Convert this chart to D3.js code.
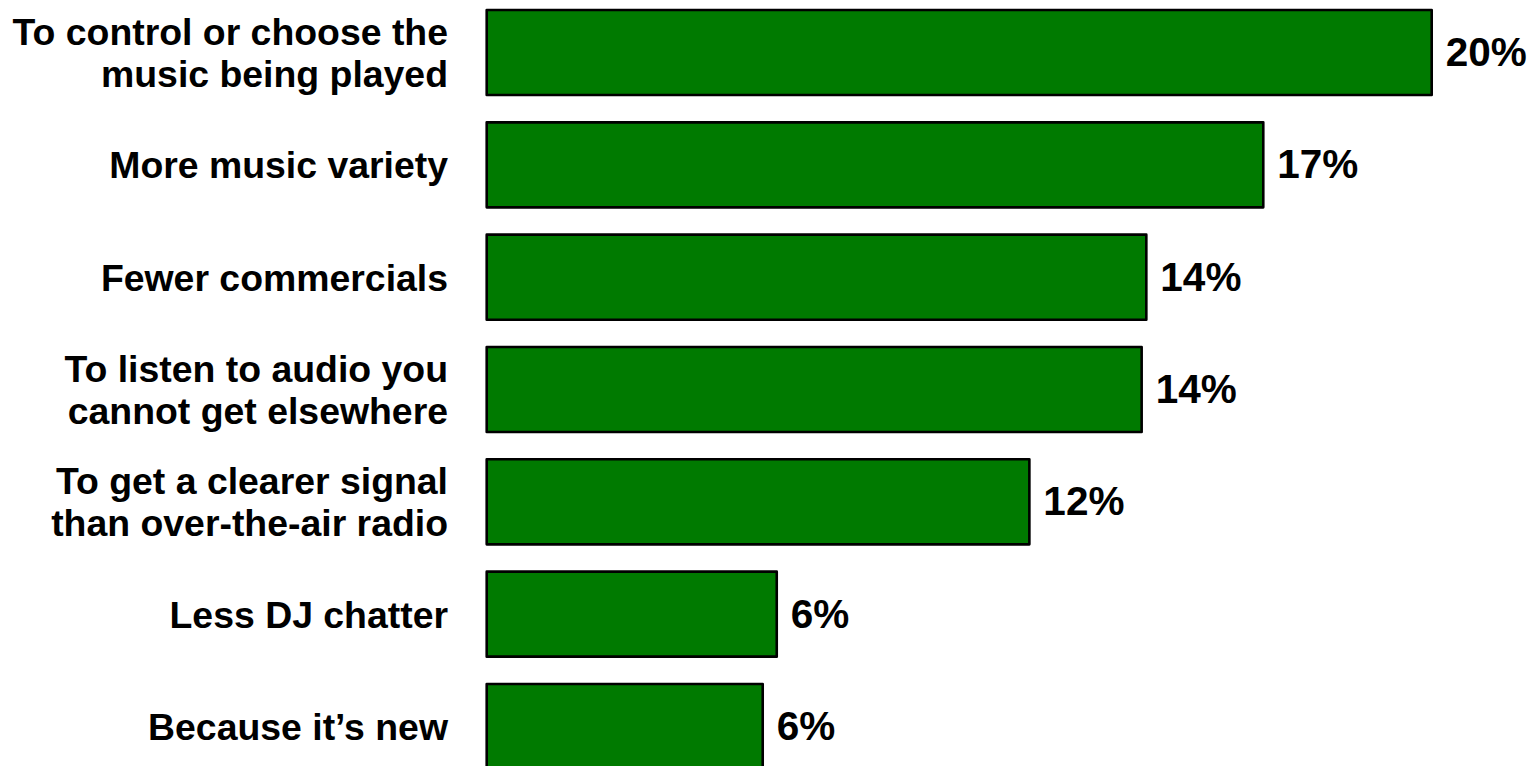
<!DOCTYPE html>
<html>
<head>
<meta charset="utf-8">
<script src="https://cdn.jsdelivr.net/npm/d3@7"></script>
<style>
  html, body { margin: 0; padding: 0; background: #ffffff; overflow: hidden; }
  svg { display: block; }
</style>
</head>
<body>
<svg id="chart" width="1533" height="766"></svg>
<script>
// ---- data ----
const categories = [
  ["To control or choose the", "music being played"],
  ["More music variety"],
  ["Fewer commercials"],
  ["To listen to audio you", "cannot get elsewhere"],
  ["To get a clearer signal", "than over-the-air radio"],
  ["Less DJ chatter"],
  ["Because it\u2019s new"]
];
const values = [20.2, 16.6, 14.1, 14.0, 11.6, 6.2, 5.9];
const valueLabels = ["20%", "17%", "14%", "14%", "12%", "6%", "6%"];

// ---- layout ----
const W = 1533, H = 766;
const svg = d3.select("#chart");
const FONT = "'Liberation Sans', Arial, Helvetica, sans-serif";

const x = d3.scaleLinear().domain([0, 20.2]).range([486.7, 1431.7]);
const y = d3.scaleBand()
  .domain(d3.range(categories.length))
  .range([10, 769])
  .paddingInner(0.243)
  .paddingOuter(0);

const rows = svg.append("g").selectAll("g.row")
  .data(values.map((v, i) => ({ v, i, cat: categories[i], lab: valueLabels[i] })))
  .join("g").attr("class", "row");

rows.append("rect")
  .attr("x", x(0))
  .attr("y", d => y(d.i))
  .attr("width", d => x(d.v) - x(0))
  .attr("height", y.bandwidth())
  .attr("fill", "#007A00")
  .attr("stroke", "#000000")
  .attr("stroke-width", 2.6)
  .attr("stroke-linejoin", "round");

// value labels
rows.append("text")
  .attr("x", d => x(d.v) + 14)
  .attr("y", d => y(d.i) + y.bandwidth() / 2)
  .attr("dy", "0.33em")
  .attr("font-family", FONT)
  .attr("font-weight", "bold")
  .attr("font-size", 40.5)
  .attr("fill", "#000")
  .text(d => d.lab);

// category labels
const lineH = 42;
rows.append("text")
  .attr("text-anchor", "end")
  .attr("font-family", FONT)
  .attr("font-weight", "bold")
  .attr("font-size", 37.4)
  .attr("fill", "#000")
  .each(function(d) {
    const t = d3.select(this);
    const cy = y(d.i) + y.bandwidth() / 2;
    const n = d.cat.length;
    d.cat.forEach((line, k) => {
      t.append("tspan")
        .attr("x", 448)
        .attr("y", cy + (k - (n - 1) / 2) * lineH)
        .attr("dy", "0.36em")
        .text(line);
    });
  });
</script>
</body>
</html>
